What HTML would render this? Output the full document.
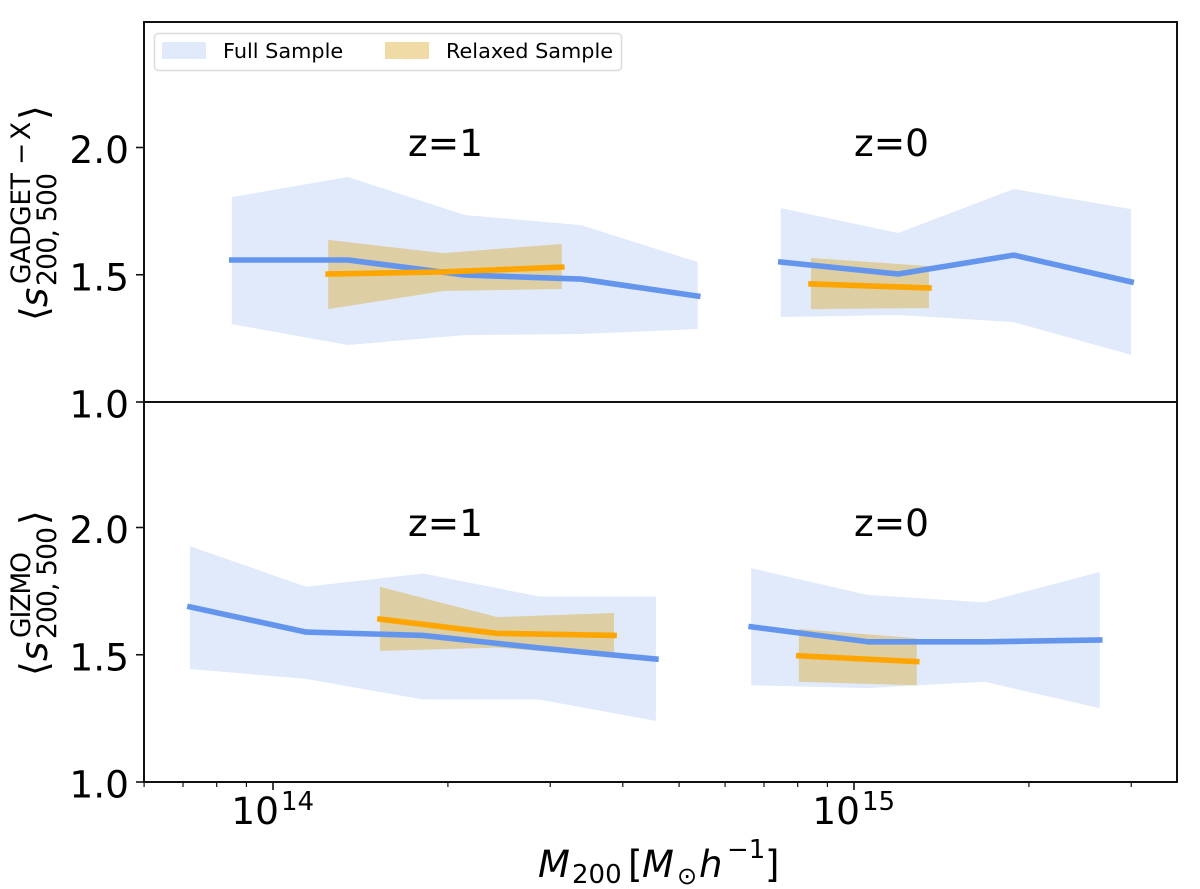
<!DOCTYPE html>
<html lang="en">
<head>
<meta charset="utf-8">
<title>Mean sparsity vs halo mass</title>
<style>
html,body{margin:0;padding:0;background:#fff;}
svg{display:block;}
text{font-family:"DejaVu Sans","Liberation Sans",sans-serif;fill:#000;}
.it{font-style:italic;}
</style>
</head>
<body>
<svg id="chart" xmlns="http://www.w3.org/2000/svg" width="1200" height="889" viewBox="0 0 1200 889">
  <rect x="0" y="0" width="1200" height="889" fill="#ffffff"/>
  <g id="bands"></g>
  <g id="lines"></g>
  <g id="ticks"></g>

  <rect x="144" y="22" width="1033" height="380" fill="none" stroke="#111" stroke-width="2"/>
  <rect x="144" y="402" width="1033" height="380" fill="none" stroke="#111" stroke-width="2"/>

  <g>
    <rect x="154.5" y="33.5" width="467" height="37" rx="4" fill="#ffffff" fill-opacity="0.8" stroke="#dcdcdc" stroke-width="1.5"/>
    <rect x="162" y="42" width="44" height="17" fill="#6495ed" fill-opacity="0.2"/>
    <text x="223" y="58" font-size="20.8">Full Sample</text>
    <rect x="385" y="42" width="44" height="17" fill="#daa520" fill-opacity="0.4"/>
    <text x="446" y="58" font-size="20.8">Relaxed Sample</text>
  </g>

  <text x="445.5" y="156" font-size="37.5" text-anchor="middle">z=1</text>
  <text x="891.5" y="156" font-size="37.5" text-anchor="middle">z=0</text>
  <text x="445.5" y="536" font-size="37.5" text-anchor="middle">z=1</text>
  <text x="891.5" y="536" font-size="37.5" text-anchor="middle">z=0</text>

  <g>
    <text transform="translate(47,321) rotate(-90)" font-size="38">⟨</text>
    <text class="it" transform="translate(47,307) rotate(-90)" font-size="37">s</text>
    <text transform="translate(30,284) rotate(-90)" font-size="26.5" textLength="111" lengthAdjust="spacing">GADGET</text>
    <text transform="translate(30,165) rotate(-90)" font-size="26.5">−</text>
    <text transform="translate(30,140) rotate(-90)" font-size="26.5">X</text>
    <text transform="translate(56,286) rotate(-90)" font-size="26.5" textLength="113" lengthAdjust="spacing">200, 500</text>
    <text transform="translate(47,120) rotate(-90)" font-size="38">⟩</text>
  </g>
  <g>
    <text transform="translate(47,676) rotate(-90)" font-size="38">⟨</text>
    <text class="it" transform="translate(47,661) rotate(-90)" font-size="37">s</text>
    <text transform="translate(30,638) rotate(-90)" font-size="26.5" textLength="86" lengthAdjust="spacing">GIZMO</text>
    <text transform="translate(56,639) rotate(-90)" font-size="26.5" textLength="112" lengthAdjust="spacing">200, 500</text>
    <text transform="translate(47,525) rotate(-90)" font-size="38">⟩</text>
  </g>

  <g>
    <text class="it" x="538" y="877" font-size="37">M</text>
    <text x="572" y="883" font-size="26">200</text>
    <text x="628" y="877" font-size="37">[</text>
    <text class="it" x="642" y="877" font-size="37">M</text>
    <text x="677" y="884" font-size="24">⊙</text>
    <text class="it" x="699" y="877" font-size="37">h</text>
    <text x="727" y="858" font-size="26">−1</text>
    <text x="765" y="877" font-size="37">]</text>
  </g>
</svg>

<script>
// Tick data
const xMajorLogMass = [14, 15];
const xMajorExponents = ["14", "15"];
const xMinorMass = [6e13, 7e13, 8e13, 9e13, 2e14, 3e14, 4e14, 5e14, 6e14, 7e14, 8e14, 9e14, 2e15, 3e15];
const yTickValues = [1.0, 1.5, 2.0];
const yTickLabels = ["1.0", "1.5", "2.0"];

// Top panel (GADGET-X), z=1
const topZ1FullMass = [13.929, 14.129, 14.330, 14.530, 14.731];
const topZ1FullMean = [1.558, 1.558, 1.499, 1.483, 1.416];
const topZ1FullHigh = [1.805, 1.884, 1.735, 1.695, 1.550];
const topZ1FullLow = [1.306, 1.224, 1.263, 1.267, 1.287];
const topZ1RelaxedMass = [14.095, 14.293, 14.497];
const topZ1RelaxedMean = [1.503, 1.511, 1.530];
const topZ1RelaxedHigh = [1.637, 1.585, 1.621];
const topZ1RelaxedLow = [1.365, 1.436, 1.444];

// Top panel (GADGET-X), z=0
const topZ0FullMass = [14.874, 15.076, 15.275, 15.477];
const topZ0FullMean = [1.550, 1.503, 1.577, 1.472];
const topZ0FullHigh = [1.762, 1.664, 1.837, 1.758];
const topZ0FullLow = [1.334, 1.342, 1.314, 1.185];
const topZ0RelaxedMass = [14.926, 15.129];
const topZ0RelaxedMean = [1.464, 1.448];
const topZ0RelaxedHigh = [1.566, 1.534];
const topZ0RelaxedLow = [1.365, 1.369];

// Bottom panel (GIZMO), z=1
const bottomZ1FullMass = [13.857, 14.057, 14.258, 14.458, 14.659];
const bottomZ1FullMean = [1.688, 1.589, 1.576, 1.527, 1.483];
const bottomZ1FullHigh = [1.927, 1.767, 1.819, 1.729, 1.729];
const bottomZ1FullLow = [1.444, 1.405, 1.324, 1.324, 1.240];
const bottomZ1RelaxedMass = [14.184, 14.386, 14.587];
const bottomZ1RelaxedMean = [1.640, 1.584, 1.576];
const bottomZ1RelaxedHigh = [1.767, 1.648, 1.664];
const bottomZ1RelaxedLow = [1.515, 1.528, 1.492];

// Bottom panel (GIZMO), z=0
const bottomZ0FullMass = [14.823, 15.024, 15.224, 15.423];
const bottomZ0FullMean = [1.610, 1.551, 1.551, 1.558];
const bottomZ0FullHigh = [1.840, 1.735, 1.706, 1.825];
const bottomZ0FullLow = [1.380, 1.369, 1.394, 1.290];
const bottomZ0RelaxedMass = [14.905, 15.108];
const bottomZ0RelaxedMean = [1.496, 1.473];
const bottomZ0RelaxedHigh = [1.601, 1.565];
const bottomZ0RelaxedLow = [1.394, 1.380];

const SVG_NS = 'http://www.w3.org/2000/svg';
const bandsLayer = document.getElementById('bands');
const linesLayer = document.getElementById('lines');
const ticksLayer = document.getElementById('ticks');

function xScale(logMass) { return 273 + (logMass - 14) * 581; }
function yTop(s) { return 402 - (s - 1) * 254.5; }
function yBottom(s) { return 782 - (s - 1) * 254.5; }

function make(tag, attrs, parent) {
  const node = document.createElementNS(SVG_NS, tag);
  Object.keys(attrs).forEach(function (k) { node.setAttribute(k, attrs[k]); });
  parent.appendChild(node);
  return node;
}

function pointsOf(xs, ys, yScale) {
  return xs.map(function (x, i) {
    return xScale(x).toFixed(2) + ',' + yScale(ys[i]).toFixed(2);
  });
}

function drawBand(name, mass, high, low, yScale, color, opacity) {
  const upper = pointsOf(mass, high, yScale);
  const lower = pointsOf(mass, low, yScale).reverse();
  const band = make('polygon', { points: upper.concat(lower).join(' '), fill: color, 'fill-opacity': opacity }, bandsLayer);
  
  
}

function drawLine(name, mass, mean, yScale, color) {
  const line = make('polyline', { points: pointsOf(mass, mean, yScale).join(' '), fill: 'none', stroke: color, 'stroke-width': 5.6, 'stroke-linecap': 'square', 'stroke-linejoin': 'round' }, linesLayer);
  
  
}

const FULL_COLOR = '#6495ed';
const RELAXED_COLOR = '#daa520';
const ORANGE = '#ffa500';

drawBand('top-z1-full-band', topZ1FullMass, topZ1FullHigh, topZ1FullLow, yTop, FULL_COLOR, 0.2);
drawBand('top-z0-full-band', topZ0FullMass, topZ0FullHigh, topZ0FullLow, yTop, FULL_COLOR, 0.2);
drawBand('bottom-z1-full-band', bottomZ1FullMass, bottomZ1FullHigh, bottomZ1FullLow, yBottom, FULL_COLOR, 0.2);
drawBand('bottom-z0-full-band', bottomZ0FullMass, bottomZ0FullHigh, bottomZ0FullLow, yBottom, FULL_COLOR, 0.2);
drawBand('top-z1-relaxed-band', topZ1RelaxedMass, topZ1RelaxedHigh, topZ1RelaxedLow, yTop, RELAXED_COLOR, 0.4);
drawBand('top-z0-relaxed-band', topZ0RelaxedMass, topZ0RelaxedHigh, topZ0RelaxedLow, yTop, RELAXED_COLOR, 0.4);
drawBand('bottom-z1-relaxed-band', bottomZ1RelaxedMass, bottomZ1RelaxedHigh, bottomZ1RelaxedLow, yBottom, RELAXED_COLOR, 0.4);
drawBand('bottom-z0-relaxed-band', bottomZ0RelaxedMass, bottomZ0RelaxedHigh, bottomZ0RelaxedLow, yBottom, RELAXED_COLOR, 0.4);

drawLine('top-z1-full-line', topZ1FullMass, topZ1FullMean, yTop, FULL_COLOR);
drawLine('top-z0-full-line', topZ0FullMass, topZ0FullMean, yTop, FULL_COLOR);
drawLine('bottom-z1-full-line', bottomZ1FullMass, bottomZ1FullMean, yBottom, FULL_COLOR);
drawLine('bottom-z0-full-line', bottomZ0FullMass, bottomZ0FullMean, yBottom, FULL_COLOR);
drawLine('top-z1-relaxed-line', topZ1RelaxedMass, topZ1RelaxedMean, yTop, ORANGE);
drawLine('top-z0-relaxed-line', topZ0RelaxedMass, topZ0RelaxedMean, yTop, ORANGE);
drawLine('bottom-z1-relaxed-line', bottomZ1RelaxedMass, bottomZ1RelaxedMean, yBottom, ORANGE);
drawLine('bottom-z0-relaxed-line', bottomZ0RelaxedMass, bottomZ0RelaxedMean, yBottom, ORANGE);

function drawYAxis(panel, yScale) {
  yTickValues.forEach(function (v, i) {
    const y = yScale(v);
    const tick = make('line', { x1: 136, x2: 144, y1: y, y2: y, stroke: '#111', 'stroke-width': 1.6 }, ticksLayer);
    
    
    const label = make('text', { x: 129, y: y + 15.5, 'font-size': 37.5, 'text-anchor': 'end' }, ticksLayer);
    label.textContent = yTickLabels[i];
    
    
  });
}
drawYAxis('top', yTop);
drawYAxis('bottom', yBottom);

xMajorLogMass.forEach(function (logMass, i) {
  const x = xScale(logMass);
  const tick = make('line', { x1: x, x2: x, y1: 782, y2: 790, stroke: '#111', 'stroke-width': 1.6 }, ticksLayer);
  
  
  const base = make('text', { x: x + 6, y: 824, 'font-size': 37.5, 'text-anchor': 'end' }, ticksLayer);
  base.textContent = '10';
  
  
  const exponent = make('text', { x: x + 8, y: 810, 'font-size': 26 }, ticksLayer);
  exponent.textContent = xMajorExponents[i];
  
  
});

xMinorMass.forEach(function (mass) {
  const x = xScale(Math.log10(mass));
  const tick = make('line', { x1: x, x2: x, y1: 782, y2: 787, stroke: '#111', 'stroke-width': 1.2 }, ticksLayer);
  
  
});
</script>
</body>
</html>
